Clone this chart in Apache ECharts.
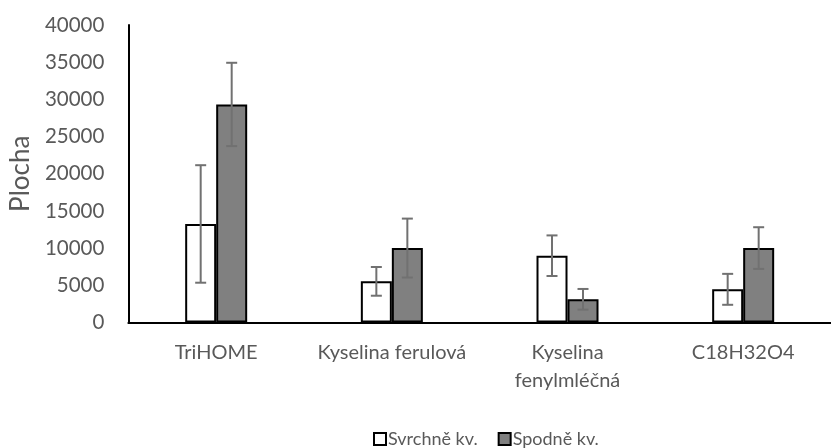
<!DOCTYPE html>
<html>
<head>
<meta charset="utf-8">
<script src="https://cdn.jsdelivr.net/npm/echarts@6/dist/echarts.min.js"></script>
<style>
html,body{margin:0;padding:0;background:#fff;}
#chart{width:831px;height:448px;}
</style>
</head>
<body>
<div id="chart"></div>
<script>
const categories = ['TriHOME', 'Kyselina ferulová', 'Kyselina\nfenylmléčná', 'C18H32O4'];
const seriesNames = ['Svrchně kv.', 'Spodně kv.'];
const svrchne = [13250, 5530, 8980, 4460];
const svrchneErr = [7900, 1930, 2730, 2080];
const spodne = [29320, 10010, 3120, 10010];
const spodneErr = [5600, 3960, 1390, 2800];
const yTicks = { min: 0, max: 40000, interval: 5000 };

const FONT = 'Lato';
const TXT = '#595959';
const BAR_W = 31;

function errData(vals, errs) {
  return vals.map((v, i) => [i, v - errs[i], v + errs[i]]);
}

function errSeries(vals, errs, side) {
  return {
    type: 'custom',
    silent: true,
    z: 5,
    data: errData(vals, errs),
    encode: { x: 0, y: [1, 2] },
    renderItem: function (params, api) {
      const idx = api.value(0);
      const lo = api.coord([idx, api.value(1)]);
      const hi = api.coord([idx, api.value(2)]);
      const x = lo[0] + side * BAR_W / 2;
      const cap = 5.5;
      const style = { stroke: '#717171', lineWidth: 2 };
      return {
        type: 'group',
        children: [
          { type: 'line', shape: { x1: x, y1: lo[1], x2: x, y2: hi[1] }, style: style },
          { type: 'line', shape: { x1: x - cap, y1: lo[1], x2: x + cap, y2: lo[1] }, style: style },
          { type: 'line', shape: { x1: x - cap, y1: hi[1], x2: x + cap, y2: hi[1] }, style: style }
        ]
      };
    }
  };
}

const chart = echarts.init(document.getElementById('chart'));
chart.setOption({
  animation: false,
  textStyle: { fontFamily: FONT },
  grid: { left: 128, right: -12, top: 25, bottom: 125.5, containLabel: false },
  legend: {
    left: 368,
    top: 425,
    itemWidth: 12,
    itemHeight: 12,
    itemGap: 20,
    icon: 'rect',
    selectedMode: false,
    itemStyle: { borderColor: '#000', borderWidth: 2 },
    textStyle: { color: TXT, fontSize: 18, fontFamily: FONT, padding: [0, 0, 0, -3] },
    data: seriesNames
  },
  xAxis: {
    type: 'category',
    data: categories,
    axisLine: { lineStyle: { color: '#000', width: 2 } },
    axisTick: { show: false },
    axisLabel: { color: TXT, fontSize: 20, fontFamily: FONT, margin: 16, lineHeight: 28, interval: 0 },
    splitLine: { show: false }
  },
  yAxis: {
    type: 'value',
    min: yTicks.min,
    max: yTicks.max,
    interval: yTicks.interval,
    name: 'Plocha',
    nameLocation: 'middle',
    nameGap: 93,
    nameTextStyle: { color: TXT, fontSize: 26, fontFamily: FONT },
    axisLine: { show: true, lineStyle: { color: '#000', width: 2 } },
    axisTick: { show: false },
    splitLine: { show: false },
    axisLabel: { color: TXT, fontSize: 20.5, fontFamily: FONT, margin: 24, formatter: function (v) { return String(v); } }
  },
  series: [
    {
      name: seriesNames[0],
      type: 'bar',
      data: svrchne,
      barWidth: BAR_W,
      barGap: '0%',
      itemStyle: { color: '#ffffff', borderColor: '#000', borderWidth: 2 }
    },
    {
      name: seriesNames[1],
      type: 'bar',
      data: spodne,
      barWidth: BAR_W,
      barGap: '0%',
      itemStyle: { color: '#808080', borderColor: '#000', borderWidth: 2 }
    },
    errSeries(svrchne, svrchneErr, -1),
    errSeries(spodne, spodneErr, 1)
  ]
});
</script>
</body>
</html>
